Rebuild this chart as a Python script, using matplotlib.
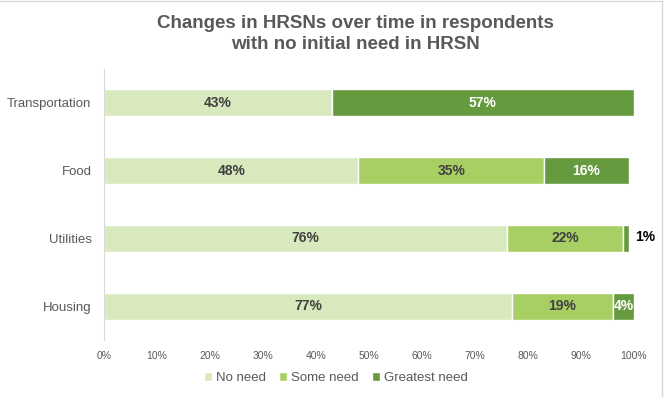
import matplotlib
matplotlib.use("Agg")
import matplotlib.pyplot as plt
from matplotlib.lines import Line2D

categories = ["Transportation", "Food", "Utilities", "Housing"]
no_need = [43, 48, 76, 77]
some_need = [0, 35, 22, 19]
greatest_need = [57, 16, 1, 4]
series_names = ["No need", "Some need", "Greatest need"]
xticks = [0, 10, 20, 30, 40, 50, 60, 70, 80, 90, 100]

colors = ["#D9E9BE", "#A8CF63", "#669A3F"]
base = "Liberation Sans"

fig = plt.figure(figsize=(6.66, 3.97), dpi=100)
ax = fig.add_axes([104/666, 1-340/397, 530/666, 271/397])

y = list(range(len(categories)))
series = [no_need, some_need, greatest_need]
left = [0]*len(categories)
for s, (vals, c, name) in enumerate(zip(series, colors, series_names)):
    ax.barh(y, vals, left=left, height=0.4, color=c, edgecolor="white", linewidth=1, label=name)
    for i, (v, l) in enumerate(zip(vals, left)):
        if v <= 0:
            continue
        if v < 2:
            ax.text(l + v + 1.2, i - 0.02, f"{v}%", ha="left", va="center", fontsize=10,
                    fontweight="bold", color="black", family=base)
        else:
            col = "white" if s == 2 else "#404040"
            ax.text(l + v/2, i, f"{v}%", ha="center", va="center", fontsize=10,
                    fontweight="bold", color=col, family=base)
    left = [a + b for a, b in zip(left, vals)]

ax.set_ylim(len(categories) - 0.5, -0.5)
ax.set_xlim(0, 100)
ax.set_yticks(y)
ax.set_yticklabels(categories, family=base, fontsize=9.5, color="#595959")
ax.set_xticks(xticks)
ax.set_xticklabels([f"{t}%" for t in xticks], family=base, fontsize=7.5, color="#595959")
ax.tick_params(axis="both", length=0)
ax.tick_params(axis="x", pad=8)
ax.tick_params(axis="y", pad=9)
for sp in ["top", "right", "bottom"]:
    ax.spines[sp].set_visible(False)
ax.spines["left"].set_color("#D9D9D9")

fig.text(355/666, 1-34/397, "Changes in HRSNs over time in respondents\nwith no initial need in HRSN",
         ha="center", va="center", fontsize=13.5, fontweight="bold", color="#595959",
         family=base, linespacing=1.25)

leg = fig.legend(loc="center", bbox_to_anchor=(336/666, 1-378/397), ncol=3, frameon=False,
                 prop={"family": base, "size": 9.5}, handlelength=0.6, handleheight=0.6,
                 handletextpad=0.3, columnspacing=1.0)
for t in leg.get_texts():
    t.set_color("#595959")

# chart frame border (top and right)
fig.add_artist(Line2D([0, 662/666], [1-1/397, 1-1/397], transform=fig.transFigure, color="#D9D9D9", lw=1))
fig.add_artist(Line2D([662/666, 662/666], [0, 1-1/397], transform=fig.transFigure, color="#D9D9D9", lw=1))

fig.savefig("out.png", dpi=100)
